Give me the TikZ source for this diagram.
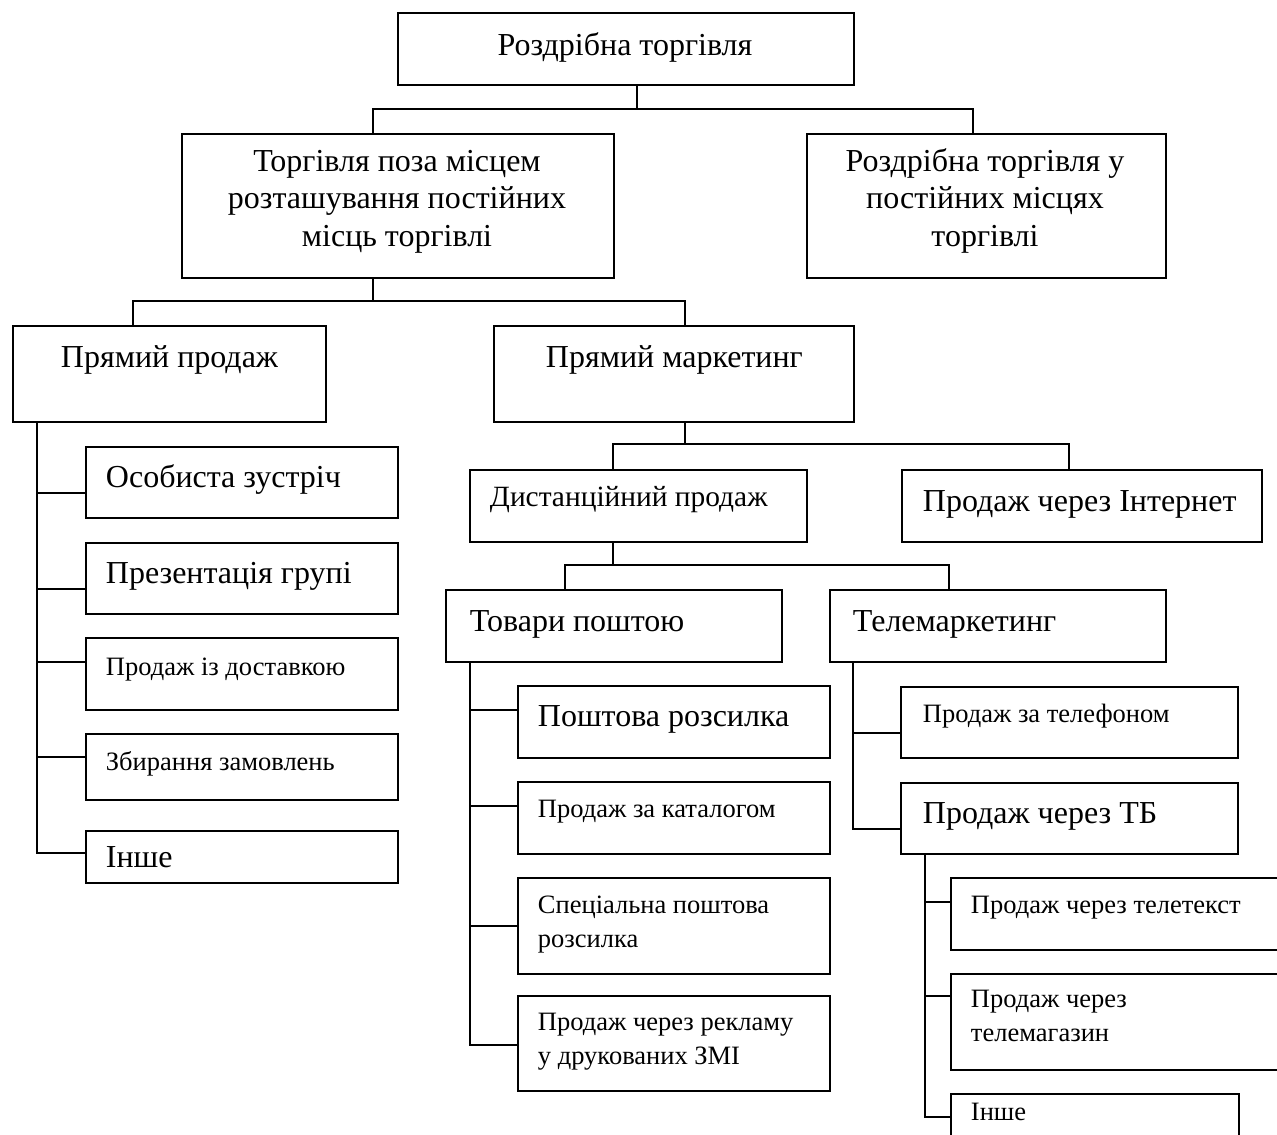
\documentclass[tikz,border=0pt]{standalone}
\usepackage{fontspec}
\setmainfont{Liberation Serif}
\begin{document}
\begin{tikzpicture}[x=1pt,y=-1pt,line width=1.9pt,
  blok/.style={draw,rectangle,anchor=north west,inner sep=0pt},
  big/.style={inner sep=0pt,font=\fontsize{32}{37.5}\selectfont},
  mid/.style={inner sep=0pt,font=\fontsize{29.4}{34}\selectfont},
  small/.style={inner sep=0pt,font=\fontsize{26.5}{34}\selectfont}]

\useasboundingbox (0,0) rectangle (1277,1135);

% upper levels
\node[blok,minimum width=456,minimum height=72] (rozdr) at (397,12) {};
\node[blok,minimum width=432,minimum height=144] (pozamisc) at (181,133) {};
\node[blok,minimum width=359,minimum height=144] (postmisc) at (806,133) {};
\node[blok,minimum width=313,minimum height=96] (pryamprod) at (12,325) {};
\node[blok,minimum width=360,minimum height=96] (pryammark) at (493,325) {};
\node[blok,minimum width=337,minimum height=72] (dystprod) at (469,469) {};
\node[blok,minimum width=360,minimum height=72] (internet) at (901,469) {};
\node[blok,minimum width=336,minimum height=72] (poshtoju) at (445,589) {};
\node[blok,minimum width=336,minimum height=72] (telemark) at (829,589) {};

\node[big,anchor=base] (rozdr-t) at (625,55) {Роздрібна торгівля};
\node[big,anchor=base,align=center] (pozamisc-t) at (397,246) {Торгівля поза місцем\\розташування постійних\\місць торгівлі};
\node[big,anchor=base,align=center] (postmisc-t) at (985,246) {Роздрібна торгівля у\\постійних місцях\\торгівлі};
\node[big,anchor=base west] (pryamprod-t) at (60,367) {Прямий продаж};
\node[big,anchor=base west] (pryammark-t) at (545,367) {Прямий маркетинг};
\node[mid,anchor=base west] (dystprod-t) at (489,506) {Дистанційний продаж};
\node[big,anchor=base west] (internet-t) at (922,511) {Продаж через Інтернет};
\node[big,anchor=base west] (poshtoju-t) at (469,631) {Товари поштою};
\node[big,anchor=base west] (telemark-t) at (852,631) {Телемаркетинг};

% direct selling
\node[blok,minimum width=312,minimum height=71] (osob) at (85,446) {};
\node[blok,minimum width=312,minimum height=71] (prezent) at (85,542) {};
\node[blok,minimum width=312,minimum height=72] (dostav) at (85,637) {};
\node[blok,minimum width=312,minimum height=66] (zbyr) at (85,733) {};
\node[blok,minimum width=312,minimum height=52] (inshe) at (85,830) {};

\node[big,anchor=base west] (osob-t) at (105,487) {Особиста зустріч};
\node[big,anchor=base west] (prezent-t) at (105,583) {Презентація групі};
\node[small,anchor=base west] (dostav-t) at (105,675) {Продаж із доставкою};
\node[small,anchor=base west] (zbyr-t) at (105,770) {Збирання замовлень};
\node[big,anchor=base west] (inshe-t) at (105,867) {Інше};

% mail order
\node[blok,minimum width=312,minimum height=72] (poshtroz) at (517,685) {};
\node[blok,minimum width=312,minimum height=72] (katalog) at (517,781) {};
\node[blok,minimum width=312,minimum height=96] (specroz) at (517,877) {};
\node[blok,minimum width=312,minimum height=95] (reklama) at (517,995) {};

\node[big,anchor=base west] (poshtroz-t) at (537,726) {Поштова розсилка};
\node[small,anchor=base west] (katalog-t) at (537,817) {Продаж за каталогом};
\node[small,anchor=base west,align=left] (specroz-t) at (537,947) {Спеціальна поштова\\розсилка};
\node[small,anchor=base west,align=left] (reklama-t) at (537,1064) {Продаж через рекламу\\у друкованих ЗМІ};

% telemarketing
\node[blok,minimum width=337,minimum height=71] (telefon) at (900,686) {};
\node[blok,minimum width=337,minimum height=71] (tb) at (900,782) {};
\node[blok,minimum width=340,minimum height=72] (teletext) at (950,877) {};
\node[blok,minimum width=340,minimum height=96] (telemag) at (950,973) {};
\node[blok,minimum width=288,minimum height=72] (inshetb) at (950,1093) {};

\node[small,anchor=base west] (telefon-t) at (922,722) {Продаж за телефоном};
\node[big,anchor=base west] (tb-t) at (922,823) {Продаж через ТБ};
\node[small,anchor=base west] (teletext-t) at (970,913) {Продаж через телетекст};
\node[small,anchor=base west,align=left] (telemag-t) at (970,1041) {Продаж через\\телемагазин};
\node[small,anchor=base west] (inshetb-t) at (970,1120) {Інше};

% tree
\draw (rozdr.south -| 637,0) -- (637,109);
\draw (pozamisc.north -| 373,0) -- (373,109) -| (postmisc.north -| 973,0);
\draw (pozamisc.south -| 373,0) -- (373,301);
\draw (pryamprod.north -| 133,0) -- (133,301) -| (pryammark.north -| 685,0);
\draw (pryammark.south -| 685,0) -- (685,444);
\draw (dystprod.north -| 613,0) -- (613,444) -| (internet.north -| 1069,0);
\draw (dystprod.south -| 613,0) -- (613,565);
\draw (poshtoju.north -| 565,0) -- (565,565) -| (telemark.north -| 949,0);

% lists
\draw (pryamprod.south -| 37,0) |- (inshe.west |- 0,853);
\foreach \n/\y in {osob/493,prezent/589,dostav/662,zbyr/757}
  \draw (37,\y) -- (\n.west |- 0,\y);
\draw (poshtoju.south -| 470,0) |- (reklama.west |- 0,1045);
\foreach \n/\y in {poshtroz/710,katalog/806,specroz/926}
  \draw (470,\y) -- (\n.west |- 0,\y);
\draw (telemark.south -| 853,0) |- (tb.west |- 0,829);
\draw (853,733) -- (telefon.west |- 0,733);
\draw (tb.south -| 925,0) |- (inshetb.west |- 0,1117);
\foreach \n/\y in {teletext/902,telemag/996}
  \draw (925,\y) -- (\n.west |- 0,\y);

\end{tikzpicture}
\end{document}
